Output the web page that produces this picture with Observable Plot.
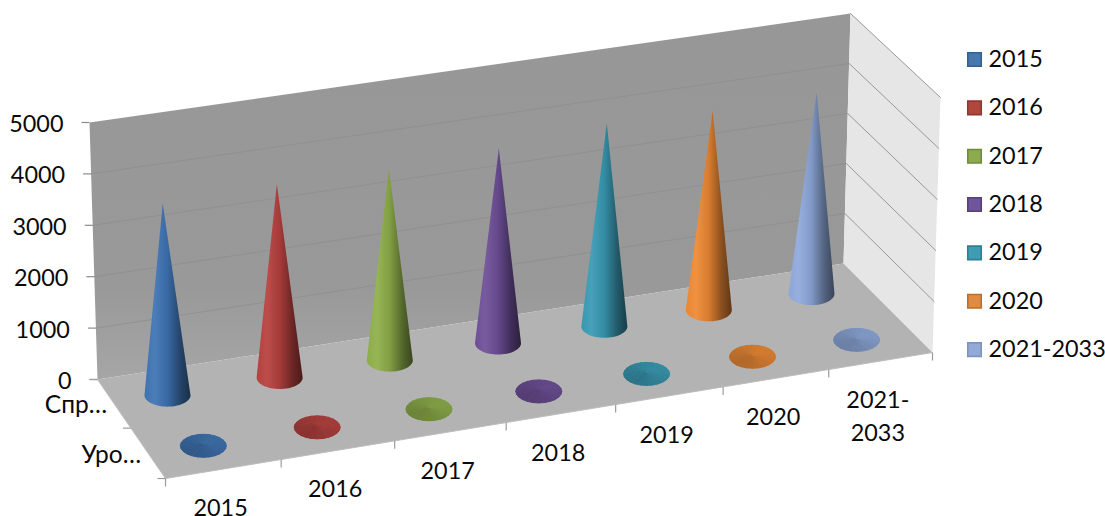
<!DOCTYPE html>
<html>
<head>
<meta charset="utf-8">
<script src="https://cdn.jsdelivr.net/npm/d3@7"></script>
<script src="https://cdn.jsdelivr.net/npm/@observablehq/plot@0.6"></script>
<style>html,body{margin:0;padding:0;background:#fff}</style>
</head>
<body>
<div id="chart"></div>
<script>
// Chart content
const categories = ["2015", "2016", "2017", "2018", "2019", "2020", "2021-\n2033"];
const legendLabels = ["2015", "2016", "2017", "2018", "2019", "2020", "2021-2033"];
const seriesNames = ["Спр…", "Уро…"];
const backRowValues = [3720, 3770, 3750, 3820, 4000, 3940, 4000];
const frontRowValues = [30, 30, 30, 30, 30, 30, 30];
const valueTicks = [0, 1000, 2000, 3000, 4000, 5000];
const colors = ["#3f75b5", "#b8423f", "#8fb04a", "#6f5099", "#3a9bb5", "#ee8a35", "#8faadc"];
const legendFill = ["#4677ad", "#b1463f", "#8daa4f", "#6f559a", "#3e9cb3", "#e08b42", "#93aad6"];
const legendStroke = ["#35618f", "#923630", "#6f8a3a", "#57417c", "#2e7f93", "#bb6f2d", "#7d94bf"];

// Pixel frame of the oblique 3D box: floor and ceiling quads (back-left, back-right, front-right, front-left)
const floorQuad = [[97, 379], [843, 263], [932, 352], [165, 478]];
const ceilQuad = [[89, 122], [850, 13], [940, 97], [158, 216]];
const nCat = categories.length, nRow = seriesNames.length, maxValue = 5000;
const catOffset = 0.47, backRow = 0.5, frontRow = 1.53;

// Perspective mapping of the unit square onto a quad
function quadMap([p0, p1, p2, p3]) {
  const dx1 = p1[0] - p2[0], dx2 = p3[0] - p2[0], sx = p0[0] - p1[0] + p2[0] - p3[0];
  const dy1 = p1[1] - p2[1], dy2 = p3[1] - p2[1], sy = p0[1] - p1[1] + p2[1] - p3[1];
  const den = dx1 * dy2 - dx2 * dy1;
  const g = (sx * dy2 - dx2 * sy) / den, h = (dx1 * sy - sx * dy1) / den;
  const a = p1[0] - p0[0] + g * p1[0], b = p3[0] - p0[0] + h * p3[0];
  const d = p1[1] - p0[1] + g * p1[1], e = p3[1] - p0[1] + h * p3[1];
  return (s, t) => {
    const w = g * s + h * t + 1;
    return [(a * s + b * t + p0[0]) / w, (d * s + e * t + p0[1]) / w];
  };
}
const floorMap = quadMap(floorQuad), ceilMap = quadMap(ceilQuad);
// u: category position, v: row position (0 = back), w: value
function project(u, v, w) {
  const f = floorMap(u / nCat, v / nRow), c = ceilMap(u / nCat, v / nRow), k = w / maxValue;
  return [f[0] + (c[0] - f[0]) * k, f[1] + (c[1] - f[1]) * k];
}
const poly = (id, pts, extra) => pts.map(([x, y]) => ({id, x, y, ...extra}));

// Walls, floor and grid
const backWall = poly("back", [project(0,0,0), project(nCat,0,0), project(nCat,0,maxValue), project(0,0,maxValue)]);
const sideWall = poly("side", [project(nCat,0,0), project(nCat,nRow,0), project(nCat,nRow,maxValue), project(nCat,0,maxValue)]);
const floorPoly = poly("floor", [project(0,0,0), project(nCat,0,0), project(nCat,nRow,0), project(0,nRow,0)]);
const backGrid = valueTicks.slice(1, -1).flatMap(t => poly("b" + t, [project(0,0,t), project(nCat,0,t)]));
const sideGrid = valueTicks.slice(1).flatMap(t => poly("s" + t, [project(nCat,0,t), project(nCat,nRow,t)]));

const RX = 23, RY = 11.5;
function shade(color, k) {
  const c = d3.rgb(color);
  const f = v => k <= 1 ? v * k : v + (255 - v) * (k - 1);
  return d3.rgb(f(c.r), f(c.g), f(c.b)).formatHex();
}
// Tall cone outline: apex plus the lower half of the base ellipse
function coneOutline(u, v, value, key) {
  const [cx, cy] = project(u, v, 0);
  const arc = d3.range(0, 33).map(i => {
    const a = Math.PI - Math.PI * i / 32;
    return [cx + RX * Math.cos(a), cy + RY * Math.sin(a)];
  });
  return poly(key, [project(u, v, value), ...arc]);
}
// Low cone seen from above: a full disc split into fans shaded by direction
function discFans(u, v, value, color, key) {
  const [cx, cy] = project(u, v, 0);
  const apex = project(u, v, value);
  const steps = 24, out = [];
  for (let i = 0; i < steps; i++) {
    const a0 = 2 * Math.PI * i / steps, a1 = 2 * Math.PI * (i + 1) / steps;
    const mid = (a0 + a1) / 2;
    const fill = shade(color, 0.82 + 0.05 * Math.cos(mid) - 0.04 * Math.sin(mid));
    out.push(...poly(`${key}-${i}`, [apex,
      [cx + RX * Math.cos(a0), cy + RY * Math.sin(a0)],
      [cx + RX * Math.cos(a1), cy + RY * Math.sin(a1)]], {fill}));
  }
  return out;
}
const frontCones = frontRowValues.flatMap((d, i) => discFans(i + catOffset, frontRow, d, colors[i], "c" + i));

// Axis ticks and labels
const valueTickRows = valueTicks.map(t => { const [x, y] = project(0, 0, t); return {t, x, y}; });
const rowEdge = d3.range(nRow + 1).map(v => { const [x, y] = project(0, v, 0); return {x, y}; });
const catEdge = d3.range(nCat + 1).map(u => { const [x, y] = project(u, nRow, 0); return {x, y}; });
const catLabels = categories.map((c, i) => { const [x, y] = project(i + 0.5, nRow, 0); return {c, x: x - 3, y}; });
const rowLabels = seriesNames.map((s, i) => { const [x, y] = project(0, i + 0.5, 0); return {s, x, y}; });
const legendRows = legendLabels.map((l, i) => ({l, i}));

// Gradients for the wall and for each cone body
const gradientDefs = () => {
  const ns = "http://www.w3.org/2000/svg";
  const defs = document.createElementNS(ns, "defs");
  const stops = [[0, 0.98], [0.22, 1.06], [0.5, 0.9], [0.78, 0.58], [1, 0.4]];
  defs.innerHTML = `<linearGradient id="wallShade" x1="0" y1="0" x2="0" y2="1">
    <stop offset="0" stop-color="#979797"/><stop offset="0.75" stop-color="#999"/><stop offset="1" stop-color="#a6a6a6"/></linearGradient>` +
    colors.map((c, i) => `<linearGradient id="cone${i}" x1="0" y1="0" x2="1" y2="0">` +
      stops.map(([o, k]) => `<stop offset="${o}" stop-color="${shade(c, k)}"/>`).join("") + `</linearGradient>`).join("");
  return defs;
};

const font = {fontFamily: "Lato", fontSize: 23.4, fill: "#0a0a0a"};

const chart = Plot.plot({
  width: 1105, height: 516, margin: 0,
  x: {domain: [0, 1105], range: [0, 1105], axis: null},
  y: {domain: [0, 516], range: [0, 516], axis: null},
  color: {type: "identity"},
  style: {background: "#fff", fontFamily: "Lato"},
  marks: [
    gradientDefs,
    Plot.line(backWall, {x: "x", y: "y", z: "id", fill: "url(#wallShade)", stroke: "none"}),
    Plot.line(backGrid, {x: "x", y: "y", z: "id", stroke: "#8d8d8d", strokeWidth: 0.7}),
    Plot.line(sideWall, {x: "x", y: "y", z: "id", fill: "#e6e6e6", stroke: "none"}),
    Plot.line(sideGrid, {x: "x", y: "y", z: "id", stroke: "#8f8f8f", strokeWidth: 0.9}),
    Plot.line(floorPoly, {x: "x", y: "y", z: "id", fill: "#b3b3b3", stroke: "none"}),
    // Floor edges and axis ticks
    Plot.link(rowEdge.slice(0, -1), {x1: "x", y1: "y", x2: (d, i) => rowEdge[i + 1].x, y2: (d, i) => rowEdge[i + 1].y, stroke: "#bdbdbd", strokeWidth: 1}),
    Plot.link(catEdge.slice(0, -1), {x1: "x", y1: "y", x2: (d, i) => catEdge[i + 1].x, y2: (d, i) => catEdge[i + 1].y, stroke: "#bdbdbd", strokeWidth: 1}),
    Plot.link(valueTickRows, {x1: d => d.x - 8, y1: "y", x2: "x", y2: "y", stroke: "#8c8c8c", strokeWidth: 1.2}),
    Plot.link(rowEdge, {x1: d => d.x - 8, y1: "y", x2: "x", y2: "y", stroke: "#9c9c9c", strokeWidth: 1.2}),
    Plot.link(catEdge, {x1: "x", y1: "y", x2: "x", y2: d => d.y + 8, stroke: "#9c9c9c", strokeWidth: 1.2}),
    // Cones, back row first
    ...backRowValues.map((d, i) => Plot.line(coneOutline(i + catOffset, backRow, d, "a" + i),
      {x: "x", y: "y", z: "id", fill: `url(#cone${i})`, stroke: "none"})),
    Plot.line(frontCones, {x: "x", y: "y", z: "id", fill: "fill", stroke: "fill", strokeWidth: 1}),
    // Text
    Plot.text(valueTickRows, {x: "x", y: "y", text: d => String(d.t), textAnchor: "end", dx: -26, dy: 2, ...font}),
    Plot.text(rowLabels, {x: "x", y: "y", text: "s", textAnchor: "end", dx: -7, dy: 2, ...font, fontSize: 24.5}),
    Plot.text(catLabels, {x: "x", y: "y", text: "c", lineAnchor: "top", dy: 24, lineHeight: 1.4, textAnchor: "middle", ...font}),
    // Legend
    Plot.dot(legendRows, {x: 974, y: d => 59 + d.i * 48.35, symbol: "square", r: 7.6, fill: d => legendFill[d.i], stroke: d => legendStroke[d.i], strokeWidth: 1.6}),
    Plot.text(legendRows, {x: 988, y: d => 59 + d.i * 48.35, text: "l", textAnchor: "start", ...font})
  ]
});
document.getElementById("chart").appendChild(chart);
</script>
</body>
</html>
